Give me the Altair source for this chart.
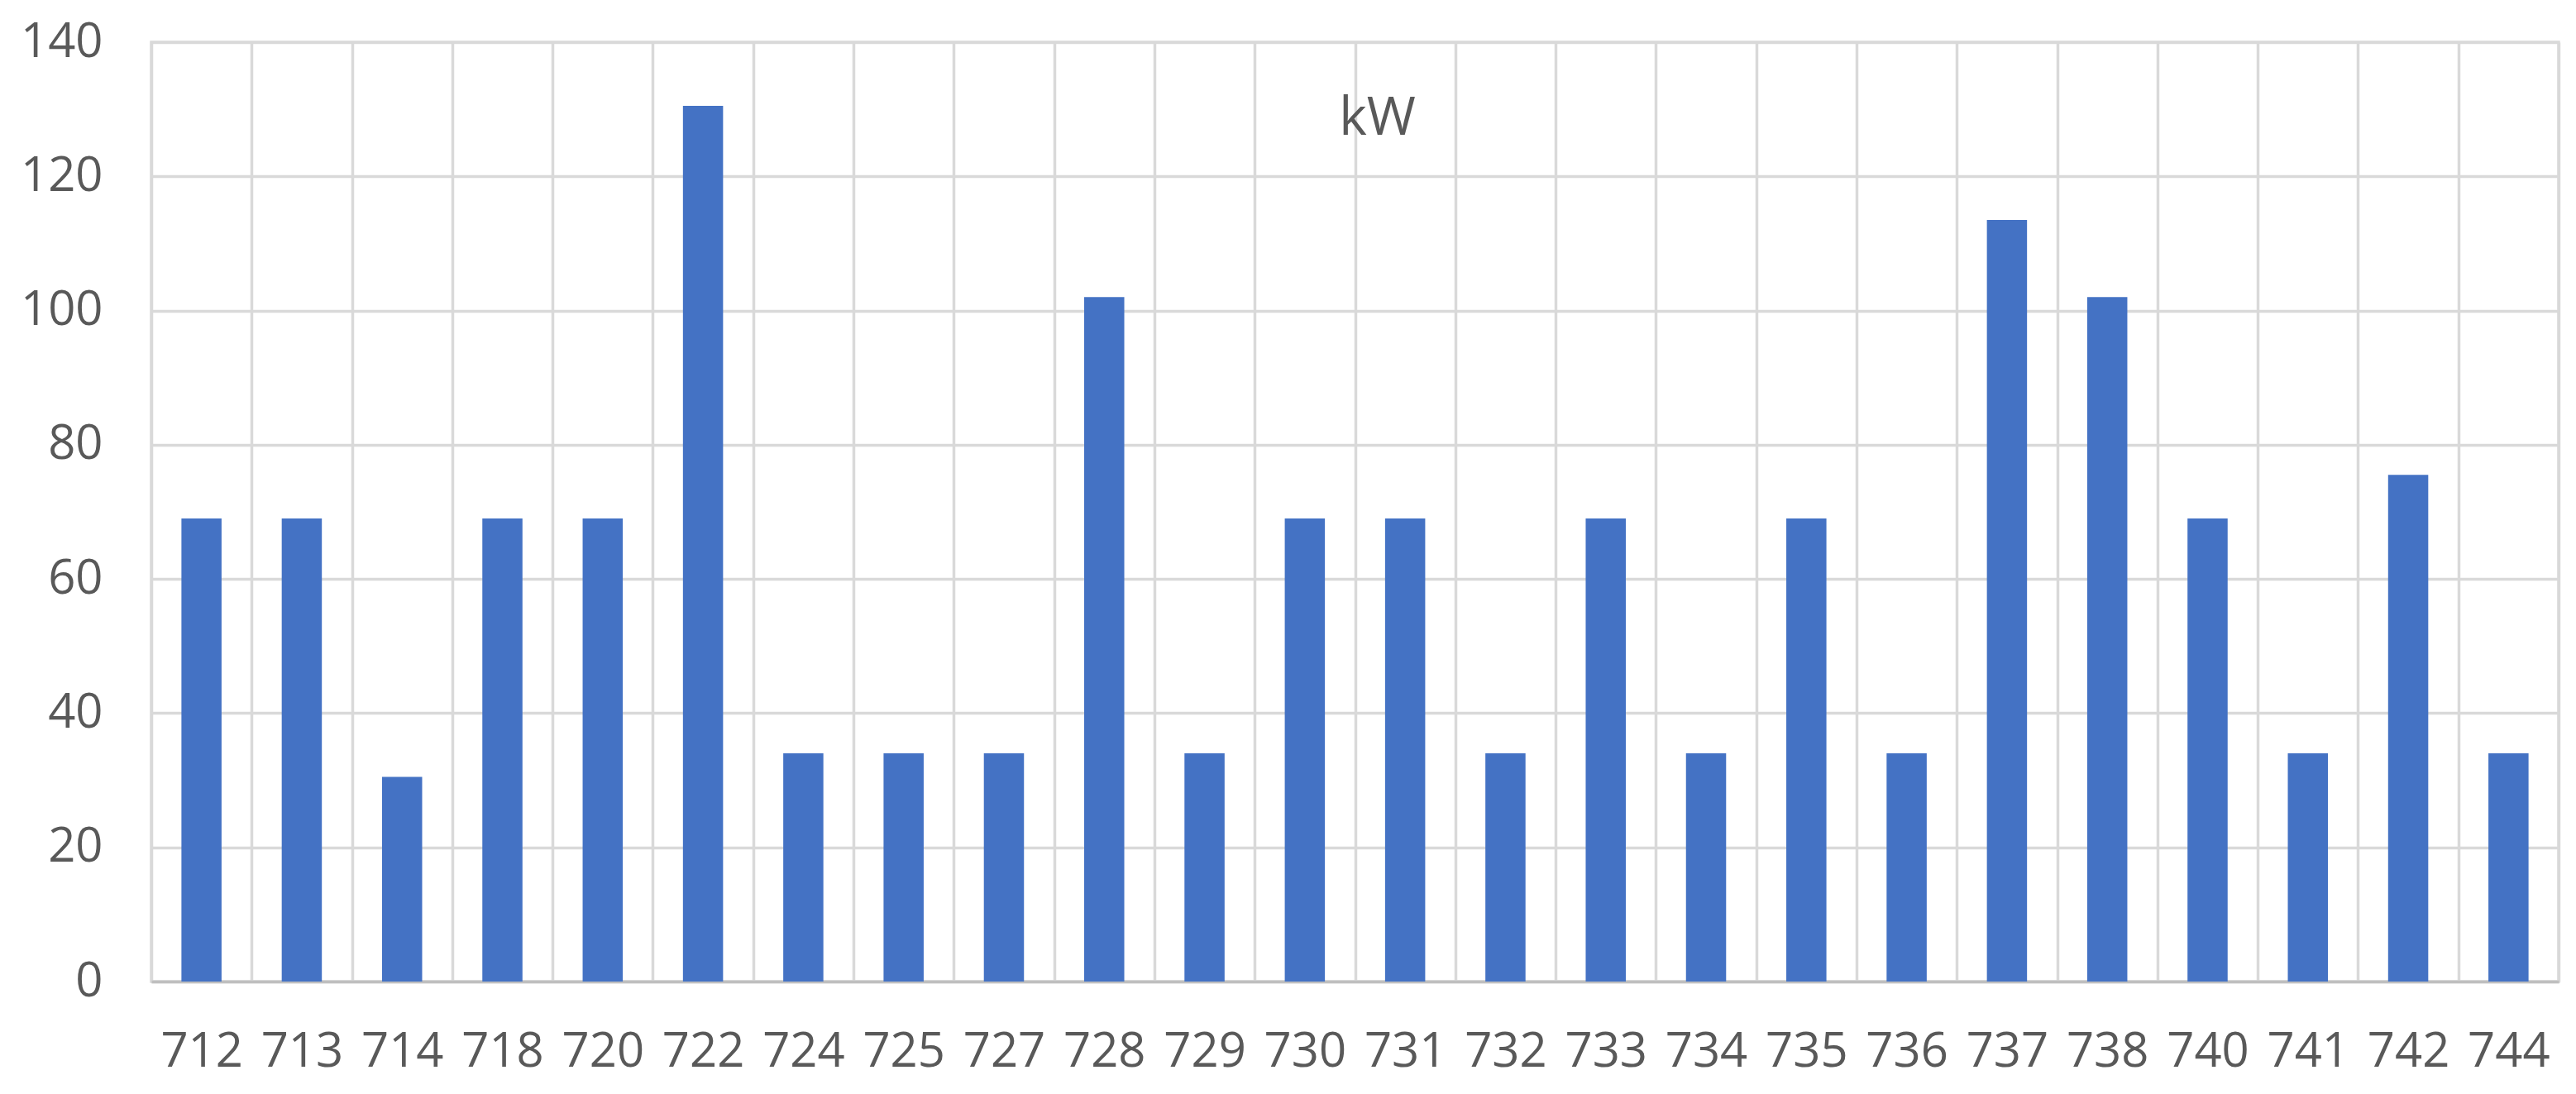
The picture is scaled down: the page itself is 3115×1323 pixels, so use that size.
import altair as alt
import pandas as pd

categories = ["712", "713", "714", "718", "720", "722", "724", "725", "727", "728",
              "729", "730", "731", "732", "733", "734", "735", "736", "737", "738",
              "740", "741", "742", "744"]
values = [69, 69, 30.5, 69, 69, 130.5, 34, 34, 34, 102,
          34, 69, 69, 34, 69, 34, 69, 34, 113.5, 102,
          69, 34, 75.5, 34]
y_ticks = [0, 20, 40, 60, 80, 100, 120, 140]

df = pd.DataFrame({"node": categories, "kw": values})

FONT = "Open Sans"
TEXT = "#595959"
GRID = "#d9d9d9"

chart = alt.Chart(df).mark_bar(color="#4472C4", width=alt.RelativeBandSize(0.4)).encode(
    x=alt.X("node:N", sort=None, title=None,
            scale=alt.Scale(paddingInner=0, paddingOuter=0),
            axis=alt.Axis(labelAngle=0, labelFont=FONT, labelFontSize=58,
                          labelColor=TEXT, labelPadding=56, ticks=False,
                          tickBand="extent", grid=True, gridColor=GRID,
                          gridWidth=3.5, domain=True, domainColor="#bfbfbf",
                          domainWidth=3.5)),
    y=alt.Y("kw:Q", title=None,
            scale=alt.Scale(domain=[0, 140], nice=False),
            axis=alt.Axis(values=y_ticks, labelFont=FONT, labelFontSize=58,
                          labelColor=TEXT, labelPadding=59, ticks=False,
                          domain=False, grid=True, gridColor=GRID,
                          gridWidth=3.5)),
).properties(
    width=2911,
    height=1136,
    title=alt.TitleParams("kW", font=FONT, fontSize=64, color=TEXT,
                          fontWeight="normal", anchor="middle", frame="group",
                          baseline="top", offset=0, dx=27, dy=154),
    autosize=alt.AutoSizeParams(type="none"),
    padding={"left": 175, "top": 43, "right": 13, "bottom": 128},
).configure_view(stroke=GRID, strokeWidth=3.5)

chart.save("out.html", embed_options={"renderer": "svg", "actions": False})
